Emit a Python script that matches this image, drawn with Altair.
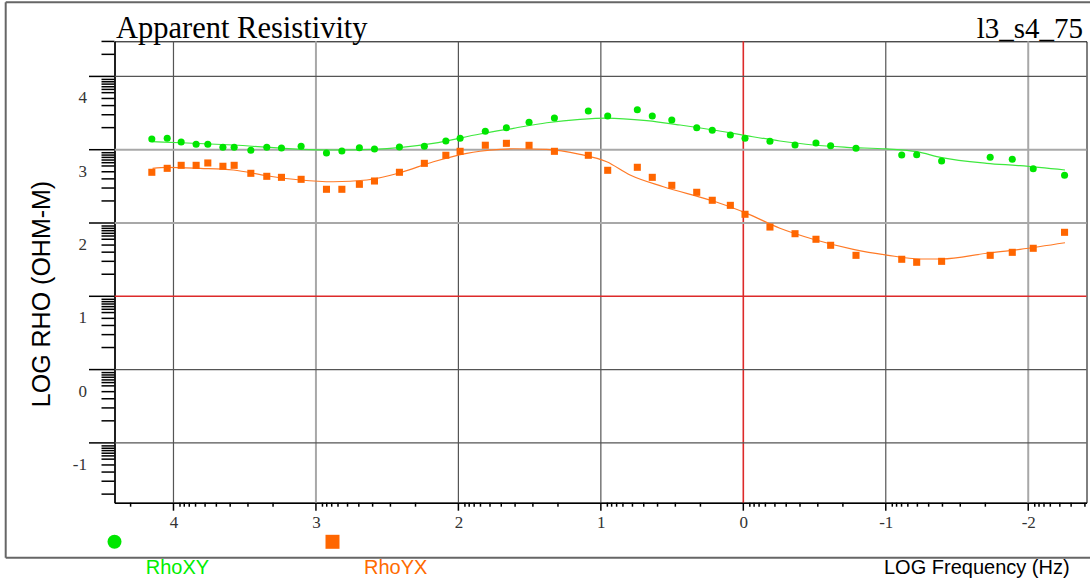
import altair as alt
import pandas as pd
import numpy as np

# log10 frequency (Hz) of each sounding sample
freq = [4.152, 4.044, 3.946, 3.841, 3.759, 3.653, 3.574, 3.457, 3.345, 3.242,
        3.104, 2.926, 2.818, 2.695, 2.589, 2.414, 2.239, 2.088, 1.988, 1.811,
        1.663, 1.504, 1.326, 1.088, 0.952, 0.744, 0.639, 0.502, 0.327, 0.218,
        0.091, -0.012, -0.187, -0.363, -0.510, -0.613, -0.791, -1.112, -1.217,
        -1.392, -1.733, -1.888, -2.035, -2.255]

# observed log apparent resistivity
rho_xy = [3.146, 3.156, 3.105, 3.074, 3.074, 3.033, 3.033, 2.992, 3.033, 3.023,
          3.046, 2.955, 2.982, 3.027, 3.010, 3.037, 3.046, 3.119, 3.156, 3.252,
          3.300, 3.374, 3.433, 3.528, 3.460, 3.546, 3.460, 3.405, 3.300, 3.265,
          3.201, 3.156, 3.115, 3.064, 3.091, 3.055, 3.019, 2.928, 2.932, 2.846,
          2.896, 2.869, 2.741, 2.651]
rho_yx = [2.692, 2.746, 2.787, 2.787, 2.819, 2.774, 2.787, 2.678, 2.637, 2.623,
          2.596, 2.460, 2.460, 2.528, 2.573, 2.692, 2.814, 2.924, 2.978, 3.061,
          3.087, 3.060, 2.978, 2.924, 2.719, 2.760, 2.623, 2.514, 2.419, 2.310,
          2.241, 2.119, 1.945, 1.854, 1.778, 1.696, 1.559, 1.505, 1.464, 1.477,
          1.559, 1.600, 1.655, 1.873]

# model response curves
fit_xy_f = [4.152, 3.946, 3.581, 3.111, 2.879, 2.599, 2.178, 1.848, 1.614, 1.380,
            1.146, 0.959, 0.678, 0.444, 0.211, -0.024, -0.257, -0.491, -0.726,
            -1.006, -1.217, -1.392, -1.708, -1.942, -2.258]
fit_xy = [3.109, 3.095, 3.064, 3.005, 2.996, 3.005, 3.087, 3.214, 3.292, 3.368,
          3.415, 3.432, 3.396, 3.337, 3.269, 3.191, 3.119, 3.064, 3.033,
          3.010, 2.973, 2.891, 2.814, 2.782, 2.723]
fit_yx_f = [4.147, 4.046, 3.813, 3.579, 3.345, 3.111, 2.877, 2.643, 2.409, 2.175,
            1.941, 1.848, 1.707, 1.614, 1.380, 1.146, 0.959, 0.795, 0.561, 0.211,
            -0.024, -0.257, -0.491, -0.772, -1.006, -1.240, -1.392, -1.708,
            -1.942, -2.258]
fit_yx = [2.746, 2.760, 2.746, 2.723, 2.645, 2.587, 2.563, 2.587, 2.686, 2.836,
          2.951, 2.979, 3.005, 3.013, 3.005, 2.937, 2.836, 2.655, 2.495, 2.300,
          2.132, 1.928, 1.778, 1.641, 1.563, 1.509, 1.509, 1.587,
          1.641, 1.731]

series = ["RhoXY", "RhoYX"]
point_colors = ["#00e600", "#ff6600"]
line_colors = ["#3ee83e", "#ff7a26"]

x_major = [4, 3, 2, 1, 0, -1, -2]
y_major = [4, 3, 2, 1, 0, -1]
x_grid_style = ["dark", "light", "dark", "dark", "red", "dark", "light"]
y_grid_style = ["dark", "light", "light", "red", "dark", "dark"]
x_minor_steps = [2, 3, 4, 5, 6, 7, 7.75, 8.4, 9]
y_minor_steps = [2, 3, 4, 5, 6, 6.65, 7.23, 7.85, 8.45, 9.1]

W, H = 972, 461.4
X_DOM = [-2.409, 4.414]
Y_DOM = [-1.816, 4.479]

styles = {"dark": ("#555555", 1.2), "light": ("#a8a8a8", 2.0), "red": ("#dd2a2a", 1.6)}

xs = alt.Scale(domain=X_DOM, reverse=True, nice=False, zero=False)
ys = alt.Scale(domain=Y_DOM, nice=False, zero=False)

SERIF = "Liberation Serif"
SANS = "Liberation Sans"

pts_df = pd.DataFrame({
    "f": freq * 2,
    "rho": rho_xy + rho_yx,
    "series": [series[0]] * len(freq) + [series[1]] * len(freq),
})
fit_df = pd.DataFrame({
    "f": fit_xy_f + fit_yx_f,
    "rho": fit_xy + fit_yx,
    "series": [series[0]] * len(fit_xy_f) + [series[1]] * len(fit_yx_f),
    "order": list(range(len(fit_xy_f))) + list(range(len(fit_yx_f))),
})

vgrid = pd.DataFrame({"v": x_major,
                      "c": [styles[s][0] for s in x_grid_style],
                      "w": [styles[s][1] for s in x_grid_style]})
hgrid = pd.DataFrame({"v": y_major,
                      "c": [styles[s][0] for s in y_grid_style],
                      "w": [styles[s][1] for s in y_grid_style]})


def minor_ticks(steps, lo, hi):
    vals = []
    for d in range(int(np.floor(lo)) - 1, int(np.ceil(hi)) + 1):
        for k in steps:
            v = d + np.log10(k)
            if lo < v < hi:
                vals.append(v)
    return pd.DataFrame({"v": vals})


x_axis = alt.Axis(values=x_major, ticks=False, grid=False, domain=True,
                  domainColor="black", domainWidth=1.5, title=None,
                  labelFont=SERIF, labelFontSize=17, labelColor="#333333",
                  labelPadding=12, labelFlush=False, labelOverlap=False,
                  labelExpr="'' + datum.value")
y_axis = alt.Axis(values=y_major, ticks=False, grid=False, domain=True,
                  domainColor="black", domainWidth=1.5, title=None,
                  labelFont=SERIF, labelFontSize=17, labelColor="#333333",
                  labelPadding=28, labelOffset=21.5, labelOverlap=False,
                  labelExpr="'' + datum.value")


def X(field):
    return alt.X(field, scale=xs, axis=x_axis)


def Y(field):
    return alt.Y(field, scale=ys, axis=y_axis)


vlines = alt.Chart(vgrid).mark_rule().encode(
    x=X("v:Q"),
    color=alt.Color("c:N", scale=None),
    strokeWidth=alt.StrokeWidth("w:Q", scale=None),
)
hlines = alt.Chart(hgrid).mark_rule().encode(
    y=Y("v:Q"),
    color=alt.Color("c:N", scale=None),
    strokeWidth=alt.StrokeWidth("w:Q", scale=None),
)

curves = alt.Chart(fit_df).mark_line(interpolate="monotone", strokeWidth=1.2).encode(
    x=X("f:Q"),
    y=Y("rho:Q"),
    stroke=alt.Stroke("series:N", scale=alt.Scale(domain=series, range=line_colors), legend=None),
    order="order:Q",
)

legend = alt.Legend(orient="none", direction="horizontal", title=None, labelExpr="''",
                    labelOffset=0, symbolSize=196, symbolStrokeWidth=0, columnPadding=204,
                    padding=0, legendX=-7, legendY=493.5)
points = alt.Chart(pts_df).mark_point(filled=True, size=50, opacity=1, strokeWidth=0).encode(
    x=X("f:Q"),
    y=Y("rho:Q"),
    color=alt.Color("series:N", scale=alt.Scale(domain=series, range=point_colors), legend=legend),
    shape=alt.Shape("series:N", scale=alt.Scale(domain=series, range=["circle", "square"]), legend=legend),
)

# axis tick marks
x_major_ticks = alt.Chart(pd.DataFrame({"v": x_major})).mark_rule(color="black", strokeWidth=1.5).encode(
    x=X("v:Q"), y=alt.value(H), y2=alt.value(H + 8))
x_minor_ticks = alt.Chart(minor_ticks(x_minor_steps, *X_DOM)).mark_rule(color="black", strokeWidth=1.5).encode(
    x=X("v:Q"), y=alt.value(H), y2=alt.value(H + 4))
y_major_ticks = alt.Chart(pd.DataFrame({"v": y_major})).mark_rule(color="black", strokeWidth=1.5).encode(
    y=Y("v:Q"), x=alt.value(-25.5), x2=alt.value(0))
y_minor_ticks = alt.Chart(minor_ticks(y_minor_steps, *Y_DOM)).mark_rule(color="black", strokeWidth=1.5).encode(
    y=Y("v:Q"), x=alt.value(-13), x2=alt.value(0))


def label(text, x, y, font, size, color="black", align="left", angle=0):
    return alt.Chart(pd.DataFrame({"t": [text]})).mark_text(
        font=font, fontSize=size, color=color, align=align, baseline="alphabetic", angle=angle
    ).encode(text="t:N", x=alt.value(x), y=alt.value(y))


texts = [
    label("Apparent Resistivity", 1.5, -3.8, SERIF, 30.5),
    label("l3_s4_75", 968.5, -3.8, SERIF, 29, align="right"),
    label("LOG RHO (OHM-M)", -64.5, 252.7, SANS, 25, align="center", angle=270),
    label("LOG Frequency (Hz)", 769.5, 533, SANS, 20),
    label("RhoXY", 31.2, 533, SANS, 20, color="#00ee00"),
    label("RhoYX", 249.5, 533, SANS, 20, color="#ff6a00"),
]

# outer frame of the figure
frame_df = pd.DataFrame({"a": [0]})
frame = [
    alt.Chart(frame_df).mark_rule(color="#666666", strokeWidth=2).encode(
        x=alt.value(-108.8), y=alt.value(-39), y2=alt.value(516.4)),
    alt.Chart(frame_df).mark_rule(color="#666666", strokeWidth=2).encode(
        x=alt.value(-108.8), x2=alt.value(980), y=alt.value(-39)),
    alt.Chart(frame_df).mark_rule(color="#666666", strokeWidth=2).encode(
        x=alt.value(-108.8), x2=alt.value(980), y=alt.value(516.4)),
]

chart = alt.layer(
    vlines, hlines, curves, points,
    x_major_ticks, x_minor_ticks, y_major_ticks, y_minor_ticks,
    *texts, *frame,
).properties(
    width=W, height=H,
    autosize="none",
    padding={"left": 114.5, "top": 41.3, "right": 3.5, "bottom": 76.3},
    background="white",
).configure_view(stroke="black", strokeWidth=1)

chart.save("out.html", embed_options={"renderer": "svg", "actions": False})
